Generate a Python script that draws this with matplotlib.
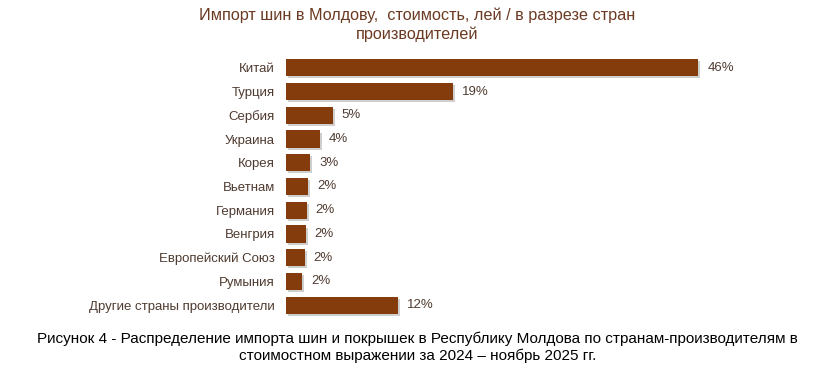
import matplotlib.pyplot as plt
import matplotlib.patheffects as pe

countries = ['Китай', 'Турция', 'Сербия', 'Украина', 'Корея', 'Вьетнам',
             'Германия', 'Венгрия', 'Европейский Союз', 'Румыния',
             'Другие страны производители']
shares = [46, 18.6, 5.2, 3.8, 2.7, 2.45, 2.3, 2.2, 2.1, 1.8, 12.5]
labels = ['46%', '19%', '5%', '4%', '3%', '2%', '2%', '2%', '2%', '2%', '12%']

bar_color = '#843C0C'
text_color = '#4F3B30'

plt.rcParams['font.family'] = ['Liberation Sans', 'DejaVu Sans']

fig = plt.figure(figsize=(8.35, 3.73), dpi=100)
ax = fig.add_axes([0.3425, 0.15, 0.6075, 0.70])

y = range(len(countries))
bars = ax.barh(y, shares, height=0.72, color=bar_color)
for b in bars:
    b.set_path_effects([pe.SimplePatchShadow(offset=(1.5, -1.5), shadow_rgbFace='#b0b0b0', alpha=0.6), pe.Normal()])
for i, (v, lab) in enumerate(zip(shares, labels)):
    ax.text(v + 1.0, i, lab, va='center', ha='left', fontsize=9.5, color=text_color)

ax.set_yticks(list(y))
ax.set_yticklabels(countries, fontsize=9.5, color=text_color)
ax.tick_params(axis='y', length=0, pad=8)
ax.set_xticks([])
ax.set_xlim(0, 56.6)
ax.set_ylim(len(countries) - 0.5, -0.5)
for s in ax.spines.values():
    s.set_visible(False)

fig.text(0.5, 0.933, 'Импорт шин в Молдову,  стоимость, лей / в разрезе стран\nпроизводителей',
         ha='center', va='center', fontsize=11.7, color='#6B3A22', linespacing=1.3)

fig.text(0.5, 0.068, 'Рисунок 4 - Распределение импорта шин и покрышек в Республику Молдова по странам-производителям в\n'
         'стоимостном выражении за 2024 – ноябрь 2025 гг.',
         ha='center', va='center', fontsize=11.0, color='black', linespacing=1.2,
         family=['Liberation Sans Narrow', 'Liberation Sans', 'DejaVu Sans'])

fig.savefig('out.png', dpi=100)
plt.close()
